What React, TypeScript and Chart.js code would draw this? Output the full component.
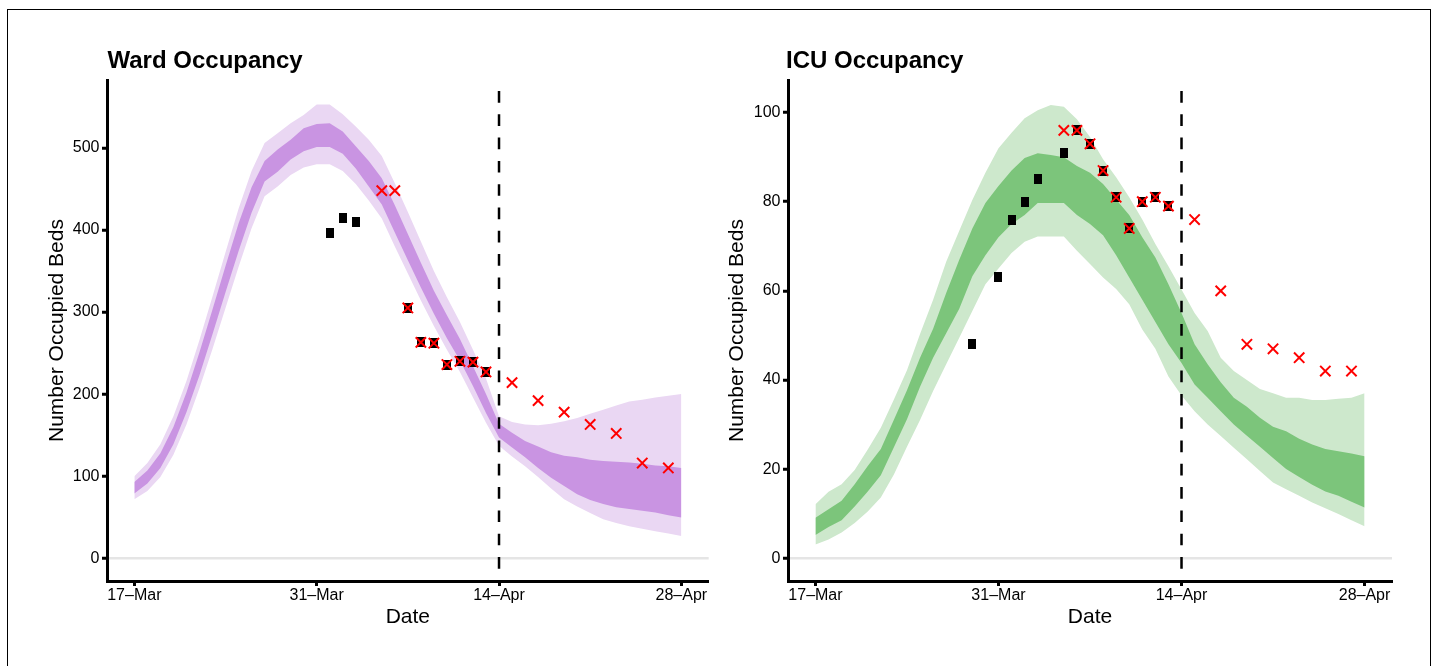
import React, { useEffect, useRef } from "react";
import { Chart, registerables } from "chart.js";

Chart.register(...registerables);

const FONT = "'Liberation Sans', Arial, Helvetica, sans-serif";

// x axis: days since 17-Mar
const TICK_DAYS = [0, 14, 28, 42];
const TICK_LABELS = ["17–Mar", "31–Mar", "14–Apr", "28–Apr"];
const CUTOFF_DAY = 28;

const BAND_DAYS = [
  0, 1, 2, 3, 4, 5, 6, 7, 8, 9, 10, 11, 12, 13, 14, 15, 16, 17, 18, 19, 20,
  21, 22, 23, 24, 25, 26, 27, 28, 29, 30, 31, 32, 33, 34, 35, 36, 37, 38, 39,
  40, 41, 42,
];

// ---- Ward occupancy ----
const WARD_OUTER_LO = [
  72, 82, 99, 126, 163, 207, 255, 305, 355, 402, 441, 453, 467, 476, 480, 480,
  472, 456, 436, 414, 380, 347, 314, 283, 254, 227, 196, 165, 137, 124, 112, 99,
  85, 72, 63, 55, 47.5, 43, 39, 36, 33, 30, 27,
];
const WARD_INNER_LO = [
  79, 91, 110, 139, 178, 223, 273, 324, 374, 421, 459, 471, 486, 496, 501, 501,
  493, 475, 453, 431, 397, 363, 330, 298, 268, 241, 210, 177, 147, 135, 123, 110,
  98, 88, 78, 71, 66, 62, 60, 58, 55.6, 52.5, 49.5,
];
const WARD_INNER_HI = [
  93, 107, 128, 160, 202, 251, 303, 356, 408, 452, 484, 498, 510, 524, 529, 530,
  520, 502, 484, 463, 430, 395, 360, 326, 296, 267, 234, 200, 164, 153, 143, 136,
  129, 125, 123, 120, 118.5, 117.5, 116.5, 115, 113, 112, 110,
];
const WARD_OUTER_HI = [
  100, 116, 139, 173, 216, 266, 319, 373, 426, 472, 506, 518, 530, 540, 553, 553,
  541, 526, 510, 490, 457, 422, 386, 350, 318, 288, 254, 219, 173, 166, 163, 162,
  164, 167, 171, 176, 181, 186, 191, 193, 196, 198, 200,
];
const WARD_OBS_DAYS = [15, 16, 17, 21, 22, 23, 24, 25, 26, 27];
const WARD_OBS = [396, 415, 410, 305, 263, 262, 236, 240, 239, 227];
const WARD_X_DAYS = [19, 20, 21, 22, 23, 24, 25, 26, 27, 29, 31, 33, 35, 37, 39, 41];
const WARD_X = [448, 448, 305, 263, 262, 236, 240, 239, 227, 214, 192, 178, 163, 152, 116, 110];
const WARD_Y_TICKS = [0, 100, 200, 300, 400, 500];

// ---- ICU occupancy ----
const ICU_OUTER_LO = [
  3.1, 4.2, 5.8, 7.9, 10.5, 13.6, 18.8, 25, 31, 37.5, 43.5, 49.5, 55.5, 61.5,
  65, 68.5, 71, 72.2, 72.2, 72.2, 69, 66, 63, 60.4, 57, 51.3, 47, 40.8, 36.5,
  33, 30, 27.4, 24.8, 22.2, 19.6, 17, 15.5, 14, 12.5, 11.2, 9.9, 8.5, 7.2,
];
const ICU_INNER_LO = [
  5.2, 7, 8.5, 11.6, 15, 18.6, 24.9, 31.2, 38.5, 45, 50.5, 56, 63.3, 68, 72,
  75, 77, 79.7, 79.7, 79.7, 77, 75, 72.5, 68, 63, 58, 53, 48, 43.8, 39, 36,
  33, 30, 27.5, 25, 22.5, 20, 18.2, 16.5, 15, 14, 12.7, 11.4,
];
const ICU_INNER_HI = [
  9.1, 11, 12.9, 16.6, 20.7, 24.5, 31.1, 37.7, 45, 51.5, 59.5, 67, 74, 79.7,
  83.5, 87, 89.8, 90.9, 90.5, 90, 88, 86.5, 84, 80.5, 77, 72, 67.5, 61.5, 55,
  48, 43.5, 39.5, 36, 34, 31.5, 29.5, 28.5, 26.8, 25.5, 24.5, 24, 23.5, 22.9,
];
const ICU_OUTER_HI = [
  12.1, 14.9, 16.6, 19.8, 24.4, 29.3, 35.6, 42.2, 50.3, 58, 66.5, 73.5, 80.4,
  86.5, 92, 95.5, 98.7, 100.5, 101.7, 101.3, 98.5, 94.5, 89.5, 85.5, 81, 76,
  70.5, 65.5, 60.3, 55, 51, 45, 42, 40, 38, 37, 36, 36, 35.5, 35.5, 35.8, 36, 37,
];
const ICU_OBS_DAYS = [12, 14, 15, 16, 17, 19, 20, 21, 22, 23, 24, 25, 26, 27];
const ICU_OBS = [48, 63, 76, 80, 85, 91, 96, 93, 87, 81, 74, 80, 81, 79];
const ICU_X_DAYS = [19, 20, 21, 22, 23, 24, 25, 26, 27, 29, 31, 33, 35, 37, 39, 41];
const ICU_X = [96, 96, 93, 87, 81, 74, 80, 81, 79, 76, 60, 48, 47, 45, 42, 42];
const ICU_Y_TICKS = [0, 20, 40, 60, 80, 100];

type PanelSpec = {
  title: string;
  titleX: number;
  outerLo: number[];
  innerLo: number[];
  innerHi: number[];
  outerHi: number[];
  obsDays: number[];
  obs: number[];
  xDays: number[];
  xs: number[];
  yTicks: number[];
  yMin: number;
  yMax: number;
  light: string;
  dark: string;
  yAxisWidth: number;
  padRight: number;
  yTitlePad: number;
};

function makeRect(w: number, h: number, color: string) {
  const c = document.createElement("canvas");
  c.width = w;
  c.height = h;
  const g = c.getContext("2d")!;
  g.fillStyle = color;
  g.fillRect(0, 0, w, h);
  return c;
}

function pts(days: number[], vals: number[]) {
  return days.map((d, i) => ({ x: d, y: vals[i] }));
}

function buildChart(canvas: HTMLCanvasElement, p: PanelSpec) {
  const band = (vals: number[], fill: any, color: string, order: number) => ({
    data: pts(BAND_DAYS, vals),
    showLine: true,
    pointRadius: 0,
    borderWidth: 0,
    borderColor: "rgba(0,0,0,0)",
    backgroundColor: color,
    fill,
    order,
    tension: 0,
  });
  const rectImg = makeRect(8, 10, "#000");
  const titlePlugin = {
    id: "panelTitle",
    afterDraw(chart: any) {
      const ctx = chart.ctx;
      ctx.save();
      ctx.font = `bold 24px ${FONT}`;
      ctx.fillStyle = "#000";
      ctx.textBaseline = "alphabetic";
      ctx.textAlign = "left";
      ctx.fillText(p.title, p.titleX, 68);
      ctx.restore();
    },
  };
  return new Chart(canvas, {
    type: "line",
    data: {
      datasets: [
        band(p.outerHi, "+1", p.light, 4),
        band(p.outerLo, false, p.light, 4),
        band(p.innerHi, "+1", p.dark, 3),
        band(p.innerLo, false, p.dark, 3),
        {
          data: [
            { x: CUTOFF_DAY, y: p.yMax },
            { x: CUTOFF_DAY, y: p.yMin },
          ],
          showLine: true,
          pointRadius: 0,
          borderColor: "#000",
          borderWidth: 2.5,
          borderDash: [11.65, 11.65],
          borderDashOffset: 12.3,
          fill: false,
          order: 2,
        },
        {
          data: pts(p.obsDays, p.obs),
          showLine: false,
          pointStyle: rectImg,
          pointRadius: 5,
          pointBackgroundColor: "#000",
          order: 1,
        },
        {
          data: pts(p.xDays, p.xs),
          showLine: false,
          pointStyle: "crossRot",
          pointRadius: 7.3,
          pointBorderWidth: 2,
          pointBorderColor: "#ff0000",
          borderColor: "#ff0000",
          order: 0,
        },
      ] as any,
    },
    options: {
      responsive: false,
      animation: false,
      events: [],
      layout: { padding: { top: 80, left: 0, right: p.padRight, bottom: 0 } },
      plugins: { legend: { display: false }, tooltip: { enabled: false }, title: { display: false } },
      scales: {
        x: {
          type: "linear",
          min: -2.1,
          max: 44.1,
          afterBuildTicks: (s: any) => {
            s.ticks = TICK_DAYS.map((v) => ({ value: v }));
          },
          afterFit: (s: any) => {
            s.height = 85;
            s.paddingLeft = 0;
            s.paddingRight = 0;
          },
          ticks: {
            callback: (v: any) => {
              const i = TICK_DAYS.indexOf(Number(v));
              return i >= 0 ? TICK_LABELS[i] : "";
            },
            font: { family: FONT, size: 16 },
            color: "#000",
            padding: 0,
            maxRotation: 0,
            autoSkip: false,
          },
          grid: {
            drawOnChartArea: false,
            drawTicks: true,
            tickLength: 5,
            tickWidth: 3,
            tickColor: "#000",
          },
          border: { display: true, color: "#000", width: 3 },
          title: {
            display: true,
            text: "Date",
            font: { family: FONT, size: 21 },
            color: "#000",
            padding: { top: 0, bottom: 36.4 },
          },
        },
        y: {
          type: "linear",
          min: p.yMin,
          max: p.yMax,
          afterBuildTicks: (s: any) => {
            s.ticks = p.yTicks.map((v) => ({ value: v }));
          },
          afterFit: (s: any) => {
            s.width = p.yAxisWidth;
            s.paddingTop = 0;
            s.paddingBottom = 0;
          },
          ticks: {
            font: { family: FONT, size: 16 },
            color: "#000",
            padding: 2.5,
            callback: (v: any) => String(v),
          },
          grid: {
            color: (ctx: any) =>
              ctx.tick && ctx.tick.value === 0 ? "#e5e5e5" : "rgba(0,0,0,0)",
            lineWidth: 2.5,
            tickLength: 5,
            tickWidth: 3,
            tickColor: "#000",
          },
          border: { display: true, color: "#000", width: 3 },
          title: {
            display: true,
            text: "Number Occupied Beds",
            font: { family: FONT, size: 21 },
            color: "#000",
            padding: { top: p.yTitlePad, bottom: 0 },
          },
        },
      },
    } as any,
    plugins: [titlePlugin],
  });
}

const WARD_SPEC: PanelSpec = {
  title: "Ward Occupancy",
  titleX: 107.5,
  outerLo: WARD_OUTER_LO,
  innerLo: WARD_INNER_LO,
  innerHi: WARD_INNER_HI,
  outerHi: WARD_OUTER_HI,
  obsDays: WARD_OBS_DAYS,
  obs: WARD_OBS,
  xDays: WARD_X_DAYS,
  xs: WARD_X,
  yTicks: WARD_Y_TICKS,
  yMin: -27.75,
  yMax: 582.75,
  light: "#EAD7F3",
  dark: "#C994E2",
  yAxisWidth: 107,
  padRight: 6,
  yTitlePad: 44.4,
};

const ICU_SPEC: PanelSpec = {
  title: "ICU Occupancy",
  titleX: 68,
  outerLo: ICU_OUTER_LO,
  innerLo: ICU_INNER_LO,
  innerHi: ICU_INNER_HI,
  outerHi: ICU_OUTER_HI,
  obsDays: ICU_OBS_DAYS,
  obs: ICU_OBS,
  xDays: ICU_X_DAYS,
  xs: ICU_X,
  yTicks: ICU_Y_TICKS,
  yMin: -5.11,
  yMax: 107.31,
  light: "#CDE8CC",
  dark: "#7CC57B",
  yAxisWidth: 70,
  padRight: 44,
  yTitlePad: 6.4,
};

export default function App() {
  const leftRef = useRef<HTMLCanvasElement>(null);
  const rightRef = useRef<HTMLCanvasElement>(null);

  useEffect(() => {
    const a = buildChart(leftRef.current!, WARD_SPEC);
    const b = buildChart(rightRef.current!, ICU_SPEC);
    return () => {
      a.destroy();
      b.destroy();
    };
  }, []);

  return (
    <div
      style={{
        position: "absolute",
        left: 0,
        top: 0,
        width: 1436,
        height: 666,
        background: "#fff",
        overflow: "hidden",
      }}
    >
      <div
        style={{
          position: "absolute",
          left: 7,
          top: 9,
          width: 1424,
          height: 700,
          border: "1px solid #000",
          boxSizing: "border-box",
        }}
      />
      <canvas
        ref={leftRef}
        width={718}
        height={666}
        style={{ position: "absolute", left: 0, top: 0, width: 718, height: 666 }}
      />
      <canvas
        ref={rightRef}
        width={718}
        height={666}
        style={{ position: "absolute", left: 718, top: 0, width: 718, height: 666 }}
      />
    </div>
  );
}
